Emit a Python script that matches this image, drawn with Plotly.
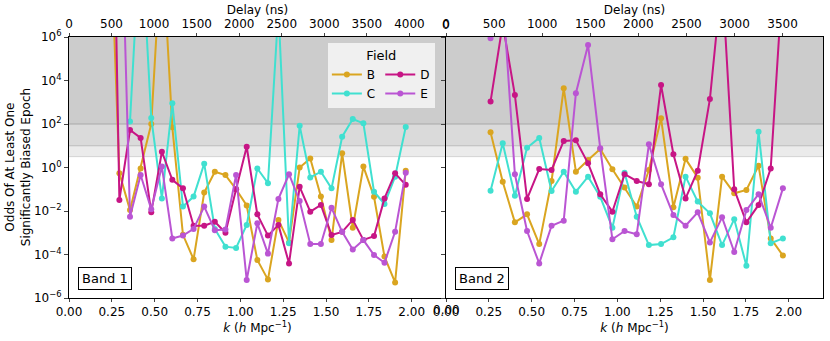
import plotly.graph_objects as go

# k grid (h/Mpc) for each band
k_band1 = [0.232, 0.294, 0.356, 0.418, 0.480, 0.542, 0.603, 0.665, 0.727, 0.789,
           0.851, 0.913, 0.975, 1.037, 1.099, 1.161, 1.222, 1.284, 1.346, 1.408,
           1.470, 1.532, 1.594, 1.656, 1.718, 1.780, 1.841, 1.903, 1.965]
k_band2 = [0.260, 0.331, 0.402, 0.473, 0.544, 0.616, 0.687, 0.758, 0.829, 0.900,
           0.971, 1.042, 1.113, 1.184, 1.255, 1.327, 1.398, 1.469, 1.540, 1.611,
           1.682, 1.753, 1.824, 1.895, 1.966]

# odds per field, band 1
b1_B = [1e13, 0.55, 0.011, 0.9, 100, 3e10, 70, 8e-4, 6e-5, 0.07, 0.64, 0.45, 0.1, 0.018,
        5.6e-5, 7e-6, 3.9e-3, 3.6e-4, 1.0, 2.6, 0.046, 4.6e-4, 4.5, 1.7e-3, 1.1, 0.045,
        8e-5, 5.2e-6, 0.71]
b1_C = [None, None, 130, 1.6e11, 190, 0.038, 900, 0.016, 0.046, 1.5, 1.5e-3, 2.3e-4, 2e-4,
        2.3e-3, 0.9, 0.19, 2e7, 3.3e-4, 83, 0.35, 0.64, 0.11, 26, 170, 107, 0.077, 0.021,
        0.38, 73]
b1_D = [1e25, 0.032, 53, 23, 8.7e-3, 5.3, 0.27, 0.11, 2.1e-3, 2.1e-3, 3.2e-3, 1e-3, 0.1, 9,
        7e-3, 7.4e-4, 2.3e-3, 3.9e-5, 0.13, 9.3e-3, 0.019, 7.9e-4, 1.1e-3, 3.9e-3, 4.7e-4,
        7e-4, 0.038, 0.54, 0.16]
b1_E = [None, 2e15, 5.5e-3, 0.45, 0.012, 1.1, 5.5e-4, 7.4e-4, 1.5e-3, 0.016, 1.3e-3, 1.4e-3,
        0.45, 6.7e-6, 2.7e-3, 1.1e-4, 0.036, 0.49, 0.029, 3e-4, 3e-4, 0.014, 1.1e-3, 1.7e-4,
        4.6e-4, 9.5e-5, 4.2e-5, 1.1e-3, 0.58]

# odds per field, band 2
b2_B = [42, 0.22, 3e-3, 7e-3, 3e-4, 0.24, 4400, 0.64, 2.2, 7.1, 0.83, 0.12, 0.016, 0.77,
        182, 0.015, 2.5, 0.34, 6.7e-6, 0.38, 0.065, 0.093, 1.2, 5.5e-4, 8.9e-5]
b2_C = [0.086, 13, 0.05, 8.1, 23, 0.083, 0.64, 0.077, 0.38, 0.045, 1.7e-3, 0.58, 5.5e-3,
        2.7e-4, 3e-4, 6.2e-4, 0.38, 0.027, 7.8e-3, 2.7e-4, 4.2e-3, 3e-5, 44, 3.3e-4, 5.5e-4]
b2_D = [1070, 4e6, 2150, 0.036, 0.85, 0.77, 16.6, 18, 1.56, 0.059, 9.3e-3, 0.49, 0.24, 0.17,
        6200, 4.1, 0.038, 0.71, 1400, 6e8, 0.1, 3e-3, 0.019, 0.91, 7e8]
b2_E = [8.7e5, 1e8, 0.49, 1.2e-3, 3.9e-5, 2.1e-3, 3.6e-3, 2600, 4.3e5, 7.6, 5e-4, 1.2e-3,
        8.5e-4, 11.7, 0.17, 6.5e-3, 2.1e-3, 8.7e-3, 3.6e-4, 5.1e-3, 1.3e-4, 0.011, 0.059,
        1.7e-3, 0.11]

fields = ['B', 'C', 'D', 'E']
colors = {'B': '#DAA520', 'C': '#40E0D0', 'D': '#C71585', 'E': '#BA55D3'}
groups = {'B': 'g1', 'C': 'g1', 'D': 'g2', 'E': 'g2'}
band1 = {'B': b1_B, 'C': b1_C, 'D': b1_D, 'E': b1_E}
band2 = {'B': b2_B, 'C': b2_C, 'D': b2_D, 'E': b2_E}

# Jeffreys-like thresholds for shading
thresholds = [10 ** 0.5, 10, 100]
shade_colors = ['#ebebeb', '#dadada', '#cccccc']
line_colors = ['#d4d4d4', '#bdbdbd', '#a8a8a8']

FONT = 'DejaVu Sans'

fig = go.Figure()

for f in fields:
    fig.add_trace(go.Scatter(x=k_band1, y=band1[f], mode='lines+markers', name=f,
                             legendgroup=groups[f], line=dict(color=colors[f], width=2),
                             marker=dict(color=colors[f], size=6),
                             connectgaps=False, xaxis='x', yaxis='y'))
for f in fields:
    fig.add_trace(go.Scatter(x=k_band2, y=band2[f], mode='lines+markers', name=f,
                             legendgroup=groups[f], showlegend=False,
                             line=dict(color=colors[f], width=2),
                             marker=dict(color=colors[f], size=6),
                             xaxis='x2', yaxis='y2'))

# empty traces so the delay axes on top get drawn
fig.add_trace(go.Scatter(x=[], y=[], xaxis='x3', yaxis='y', showlegend=False, hoverinfo='skip'))
fig.add_trace(go.Scatter(x=[], y=[], xaxis='x4', yaxis='y2', showlegend=False, hoverinfo='skip'))

shapes = []
for xr, yr in [('x', 'y'), ('x2', 'y2')]:
    for i, t in enumerate(thresholds):
        shapes.append(dict(type='rect', xref=xr + ' domain', yref=yr, x0=0, x1=1,
                           y0=t, y1=1e6, fillcolor=shade_colors[i], line_width=0,
                           layer='below'))
    for i, t in enumerate(thresholds):
        shapes.append(dict(type='line', xref=xr + ' domain', yref=yr, x0=0, x1=1,
                           y0=t, y1=t, line=dict(color=line_colors[i], width=1),
                           layer='below'))

ytv = [10.0 ** p for p in range(-6, 7, 2)]
ytt = ['10<sup>%s%d</sup>' % ('\u2212' if p < 0 else '', abs(p)) for p in range(-6, 7, 2)]

xtitle = dict(text='<i>k</i> (<i>h</i> Mpc<sup>\u22121</sup>)', font=dict(size=12), standoff=4)
common_x = dict(dtick=0.25, tick0=0, tickformat='.2f', ticks='outside',
                ticklen=3, showgrid=False, zeroline=False, showline=True, linecolor='black',
                mirror=False, tickfont=dict(size=12), title=xtitle,
                ticklabeloverflow='allow')
common_top = dict(side='top', ticks='outside', ticklen=3, dtick=500, tick0=0, showgrid=False,
                  zeroline=False, showline=True, linecolor='black',
                  tickfont=dict(size=12), ticklabeloverflow='allow',
                  title=dict(text='Delay (ns)', font=dict(size=12), standoff=0))

# labels at the shared edge that plotly drops for the second panel
edge_labels = [
    dict(text='0.00', xref='x2', yref='y2 domain', x=0, y=0, xanchor='center',
         yanchor='top', yshift=-3, showarrow=False, font=dict(size=12)),
    dict(text='0', xref='x2', yref='y2 domain', x=0, y=1, xanchor='center',
         yanchor='bottom', yshift=3, showarrow=False, font=dict(size=12)),
]

fig.update_layout(
    width=830, height=341,
    margin=dict(l=69, r=7, t=37, b=43, autoexpand=False),
    paper_bgcolor='white', plot_bgcolor='white',
    font=dict(family=FONT, size=12, color='black'),
    xaxis=dict(domain=[0, 0.5], anchor='y', range=[0, 2.2], **common_x),
    xaxis2=dict(domain=[0.5, 1], anchor='y2', range=[0, 2.2], **common_x),
    xaxis3=dict(overlaying='x', anchor='y', range=[0, 4430], **common_top),
    xaxis4=dict(overlaying='x2', anchor='y2', range=[0, 3920], **common_top),
    yaxis=dict(type='log', range=[-6, 6], tickvals=ytv, ticktext=ytt, ticks='outside',
               ticklen=4, showgrid=False, zeroline=False, showline=True,
               linecolor='black', anchor='x'),
    yaxis2=dict(type='log', range=[-6, 6], tickvals=ytv, showticklabels=False,
                ticks='outside', ticklen=4, showgrid=False, zeroline=False,
                showline=True, linecolor='black', mirror=True, anchor='x2', matches='y'),
    shapes=shapes,
    legend=dict(orientation='h', x=0.342, y=0.98, xanchor='left', yanchor='top',
                bgcolor='rgba(244,244,244,0.9)', bordercolor='#cccccc', borderwidth=1,
                font=dict(size=12), tracegroupgap=0,
                title=dict(text='Field', side='top center', font=dict(size=13))),
    annotations=edge_labels + [
        dict(text='Odds Of At Least One<br>Significantly Biased Epoch', xref='paper',
             yref='paper', x=-0.068, y=0.5, xanchor='center', yanchor='middle',
             textangle=-90, showarrow=False, font=dict(size=12)),
        dict(text='Band 1', xref='x domain', yref='y domain', x=0.025, y=0.03,
             xanchor='left', yanchor='bottom', showarrow=False, font=dict(size=13),
             bordercolor='black', borderwidth=1, borderpad=3, bgcolor='white'),
        dict(text='Band 2', xref='x2 domain', yref='y2 domain', x=0.025, y=0.03,
             xanchor='left', yanchor='bottom', showarrow=False, font=dict(size=13),
             bordercolor='black', borderwidth=1, borderpad=3, bgcolor='white'),
    ],
)

fig.write_html('out.html', config={'displayModeBar': False},
               post_script="document.body.style.margin='0';")
